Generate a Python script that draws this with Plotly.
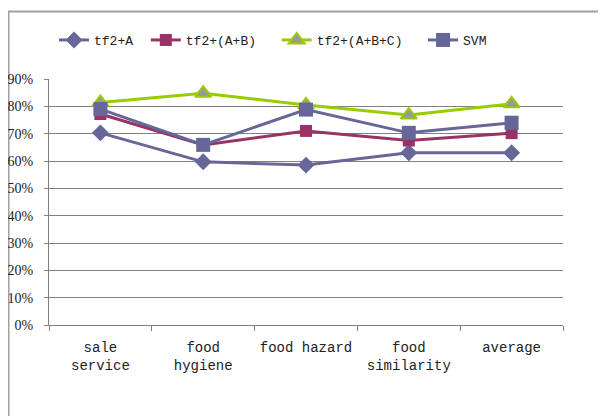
import plotly.graph_objects as go

categories = ["sale<br>service", "food<br>hygiene", "food hazard", "food<br>similarity", "average"]
tf2_A = [0.703, 0.597, 0.585, 0.630, 0.630]
tf2_AB = [0.772, 0.659, 0.710, 0.675, 0.702]
tf2_ABC = [0.814, 0.848, 0.805, 0.768, 0.809]
svm = [0.790, 0.659, 0.788, 0.703, 0.740]
series_names = ["tf2+A", "tf2+(A+B)", "tf2+(A+B+C)", "SVM"]
legend_pad = ["\u00a0", "\u00a0\u00a0", "\u00a0\u00a0", ""]

OFF = 8  # page body margin
W, H = 606 - OFF, 416 - OFF
L, T = 49 - OFF, 79 - OFF
R = W - (563 - OFF)
B = H - (325 - OFF)
pw, ph = W - L - R, H - T - B

names = [n + p for n, p in zip(series_names, legend_pad)]

fig = go.Figure()
fig.add_trace(go.Scatter(x=categories, y=tf2_A, name=names[0], mode="lines+markers",
                         line=dict(color="#666699", width=3),
                         marker=dict(symbol="diamond", size=13, color="#666699")))
fig.add_trace(go.Scatter(x=categories, y=tf2_AB, name=names[1], mode="lines+markers",
                         line=dict(color="#993366", width=3),
                         marker=dict(symbol="square", size=12, color="#993366")))
fig.add_trace(go.Scatter(x=categories, y=tf2_ABC, name=names[2], mode="lines+markers",
                         line=dict(color="#99CC00", width=3),
                         marker=dict(symbol="triangle-up", size=14, color="#999999",
                                     line=dict(color="#99CC00", width=2))))
fig.add_trace(go.Scatter(x=categories, y=svm, name=names[3], mode="lines+markers",
                         line=dict(color="#666699", width=3),
                         marker=dict(symbol="square", size=14, color="#666699")))

def px_x(p):  # window pixel -> paper
    return (p - OFF - L) / pw

def px_y(p):
    return (H - B - (p - OFF)) / ph

fig.add_shape(type="rect", xref="paper", yref="paper",
              x0=px_x(8.5), x1=px_x(640), y0=px_y(460), y1=px_y(11.5),
              line=dict(color="#A0A0A0", width=2), fillcolor="rgba(0,0,0,0)", layer="below")

fig.update_layout(
    width=W, height=H, autosize=False,
    margin=dict(l=L, r=R, t=T, b=B, pad=0, autoexpand=False),
    paper_bgcolor="white", plot_bgcolor="white",
    font=dict(family="Liberation Serif", size=14, color="#222222"),
    showlegend=True,
    legend=dict(orientation="h", x=px_x(273), y=px_y(40), xanchor="center", yanchor="middle",
                font=dict(family="Liberation Mono", size=13, color="#222222"),
                itemwidth=30, tracegroupgap=0, bgcolor="rgba(0,0,0,0)"),
)
fig.update_xaxes(
    type="category", showgrid=False, showline=True, linecolor="#808080", linewidth=1,
    ticks="outside", tickson="boundaries", ticklen=5, tickcolor="#808080",
    tickfont=dict(family="Liberation Mono", size=14, color="#222222"),
    ticklabelstandoff=9, tickangle=0, automargin=False,
    range=[-0.5, 4.5], fixedrange=True,
)
fig.update_yaxes(
    range=[0, 0.9], dtick=0.1, tickformat=".0%", showgrid=True, gridcolor="#808080", gridwidth=1,
    showline=True, linecolor="#808080", linewidth=1, ticks="outside", ticklen=4, tickcolor="#808080",
    tickfont=dict(family="Liberation Serif", size=14, color="#222222"), zeroline=False,
    ticklabelstandoff=8, automargin=False,
)

fig.write_html("out.html")
